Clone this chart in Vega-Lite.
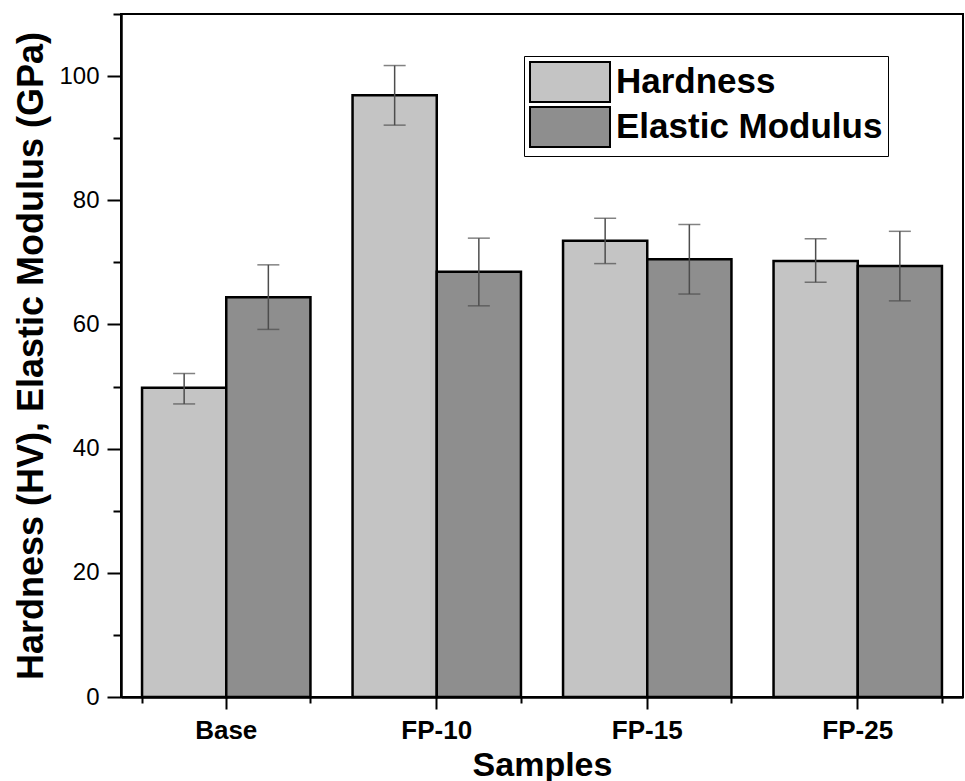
{
  "$schema": "https://vega.github.io/schema/vega-lite/v6.json",
  "width": 842,
  "height": 683,
  "autosize": {"type": "none"},
  "padding": {"left": 121, "top": 14, "right": 2, "bottom": 84},
  "background": "white",
  "config": {
    "font": "Liberation Sans",
    "view": {"stroke": "black", "strokeWidth": 2}
  },
  "data": {
    "values": [
      {"sample": "Base", "series": "Hardness", "value": 49.8, "lo": 47.2, "hi": 52.1},
      {"sample": "Base", "series": "Elastic Modulus", "value": 64.4, "lo": 59.2, "hi": 69.6},
      {"sample": "FP-10", "series": "Hardness", "value": 96.9, "lo": 92.1, "hi": 101.7},
      {"sample": "FP-10", "series": "Elastic Modulus", "value": 68.5, "lo": 63.0, "hi": 73.9},
      {"sample": "FP-15", "series": "Hardness", "value": 73.5, "lo": 69.8, "hi": 77.1},
      {"sample": "FP-15", "series": "Elastic Modulus", "value": 70.5, "lo": 64.9, "hi": 76.1},
      {"sample": "FP-25", "series": "Hardness", "value": 70.2, "lo": 66.8, "hi": 73.8},
      {"sample": "FP-25", "series": "Elastic Modulus", "value": 69.4, "lo": 63.8, "hi": 75.0}
    ]
  },
  "layer": [
    {
      "mark": {"type": "bar", "stroke": "black", "strokeWidth": 2.5},
      "encoding": {
        "x": {
          "field": "sample",
          "type": "nominal",
          "sort": ["Base", "FP-10", "FP-15", "FP-25"],
          "scale": {"paddingInner": 0.2, "paddingOuter": 0.1},
          "axis": {
            "orient": "bottom",
            "title": "Samples",
            "titleFontSize": 34,
            "titleFontWeight": "bold",
            "titleColor": "black",
            "titlePadding": 5,
            "labelFontSize": 26,
            "labelFontWeight": "bold",
            "labelColor": "black",
            "labelAngle": 0,
            "labelPadding": 8,
            "domainColor": "black",
            "domainWidth": 2.5,
            "tickColor": "black",
            "tickWidth": 2,
            "tickSize": 12,
            "tickBand": "center"
          }
        },
        "xOffset": {"field": "series", "type": "nominal", "sort": ["Hardness", "Elastic Modulus"]},
        "y": {
          "field": "value",
          "type": "quantitative",
          "scale": {"domain": [0, 110], "nice": false},
          "axis": {
            "title": "Hardness (HV), Elastic Modulus (GPa)",
            "titleFontSize": 36,
            "titleFontWeight": "bold",
            "titleColor": "black",
            "titlePadding": 8,
            "values": [0, 10, 20, 30, 40, 50, 60, 70, 80, 90, 100, 110],
            "labelExpr": "datum.value % 20 === 0 && datum.value <= 100 ? datum.label : ''",
            "labelFontSize": 24,
            "labelColor": "black",
            "labelPadding": 8,
            "grid": false,
            "domainColor": "black",
            "domainWidth": 2.5,
            "tickColor": "black",
            "tickWidth": 2,
            "tickSize": {"condition": {"test": "datum.value % 20 === 0", "value": 14}, "value": 8}
          }
        },
        "fill": {
          "field": "series",
          "type": "nominal",
          "sort": ["Hardness", "Elastic Modulus"],
          "scale": {"domain": ["Hardness", "Elastic Modulus"], "range": ["#c4c4c4", "#8e8e8e"]},
          "legend": {
            "title": null,
            "orient": "none",
            "legendX": 403,
            "legendY": 42,
            "direction": "vertical",
            "strokeColor": "black",
            "fillColor": "white",
            "padding": 5,
            "symbolType": "M-1,-1H3V1H-1Z",
            "symbolSize": 1600,
            "symbolStrokeColor": "black",
            "symbolStrokeWidth": 2,
            "symbolOpacity": 1,
            "rowPadding": -4,
            "labelFontSize": 35,
            "labelFontWeight": "bold",
            "labelColor": "black",
            "labelOffset": 45,
            "labelLimit": 400
          }
        }
      }
    },
    {
      "mark": {"type": "rule", "color": "#4d4d4d", "strokeWidth": 1.5},
      "encoding": {
        "x": {"field": "sample", "type": "nominal", "sort": ["Base", "FP-10", "FP-15", "FP-25"], "axis": null},
        "xOffset": {"field": "series", "type": "nominal", "sort": ["Hardness", "Elastic Modulus"]},
        "y": {"field": "lo", "type": "quantitative"},
        "y2": {"field": "hi"}
      }
    },
    {
      "mark": {"type": "tick", "color": "#4d4d4d", "thickness": 1.5, "size": 22},
      "encoding": {
        "x": {"field": "sample", "type": "nominal", "sort": ["Base", "FP-10", "FP-15", "FP-25"], "axis": null},
        "xOffset": {"field": "series", "type": "nominal", "sort": ["Hardness", "Elastic Modulus"]},
        "y": {"field": "hi", "type": "quantitative"}
      }
    },
    {
      "mark": {"type": "tick", "color": "#4d4d4d", "thickness": 1.5, "size": 22},
      "encoding": {
        "x": {"field": "sample", "type": "nominal", "sort": ["Base", "FP-10", "FP-15", "FP-25"], "axis": null},
        "xOffset": {"field": "series", "type": "nominal", "sort": ["Hardness", "Elastic Modulus"]},
        "y": {"field": "lo", "type": "quantitative"}
      }
    },
    {
      "mark": {"type": "bar", "opacity": 0},
      "encoding": {
        "y": {"field": "value", "type": "quantitative"},
        "x": {
          "field": "sample",
          "type": "nominal",
          "sort": ["Base", "FP-10", "FP-15", "FP-25"],
          "axis": {
            "orient": "bottom",
            "title": null,
            "labels": false,
            "domain": false,
            "tickBand": "extent",
            "tickSize": 6,
            "tickWidth": 2,
            "tickColor": "black"
          }
        }
      }
    }
  ],
  "resolve": {"axis": {"x": "independent"}}
}
